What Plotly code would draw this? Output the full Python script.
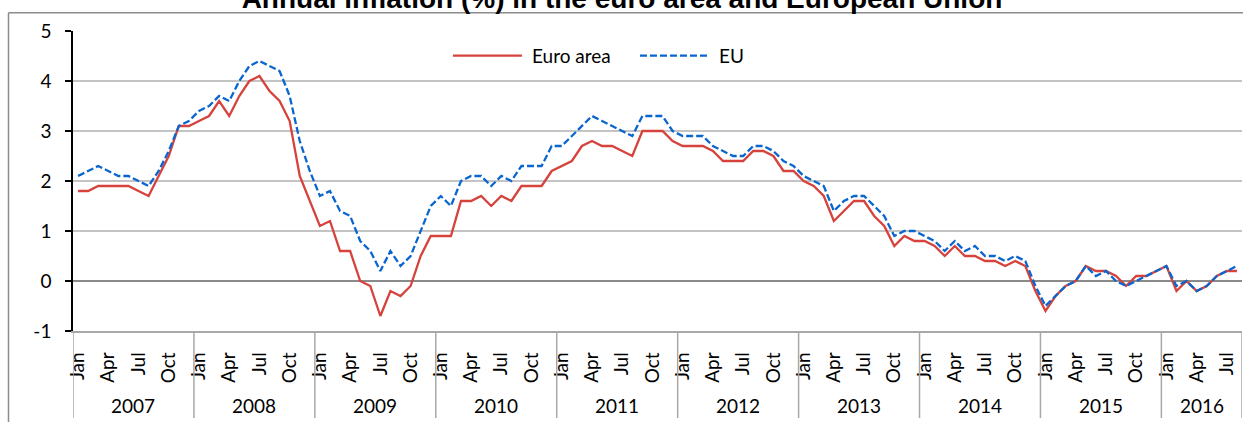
import plotly.graph_objects as go

# ---------------- data ----------------
years = [2007, 2008, 2009, 2010, 2011, 2012, 2013, 2014, 2015, 2016]
months = ["Jan", "Feb", "Mar", "Apr", "May", "Jun", "Jul", "Aug", "Sep", "Oct", "Nov", "Dec"]
shown_months = ["Jan", "Apr", "Jul", "Oct"]

euro_area = [
    1.8, 1.8, 1.9, 1.9, 1.9, 1.9, 1.8, 1.7, 2.1, 2.5, 3.1, 3.1,      # 2007
    3.2, 3.3, 3.6, 3.3, 3.7, 4.0, 4.1, 3.8, 3.6, 3.2, 2.1, 1.6,      # 2008
    1.1, 1.2, 0.6, 0.6, 0.0, -0.1, -0.7, -0.2, -0.3, -0.1, 0.5, 0.9,  # 2009
    0.9, 0.9, 1.6, 1.6, 1.7, 1.5, 1.7, 1.6, 1.9, 1.9, 1.9, 2.2,      # 2010
    2.3, 2.4, 2.7, 2.8, 2.7, 2.7, 2.6, 2.5, 3.0, 3.0, 3.0, 2.8,      # 2011
    2.7, 2.7, 2.7, 2.6, 2.4, 2.4, 2.4, 2.6, 2.6, 2.5, 2.2, 2.2,      # 2012
    2.0, 1.9, 1.7, 1.2, 1.4, 1.6, 1.6, 1.3, 1.1, 0.7, 0.9, 0.8,      # 2013
    0.8, 0.7, 0.5, 0.7, 0.5, 0.5, 0.4, 0.4, 0.3, 0.4, 0.3, -0.2,     # 2014
    -0.6, -0.3, -0.1, 0.0, 0.3, 0.2, 0.2, 0.1, -0.1, 0.1, 0.1, 0.2,  # 2015
    0.3, -0.2, 0.0, -0.2, -0.1, 0.1, 0.2, 0.2,                       # 2016
]

eu = [
    2.1, 2.2, 2.3, 2.2, 2.1, 2.1, 2.0, 1.9, 2.2, 2.6, 3.1, 3.2,      # 2007
    3.4, 3.5, 3.7, 3.6, 4.0, 4.3, 4.4, 4.3, 4.2, 3.7, 2.8, 2.2,      # 2008
    1.7, 1.8, 1.4, 1.3, 0.8, 0.6, 0.2, 0.6, 0.3, 0.5, 1.0, 1.5,      # 2009
    1.7, 1.5, 2.0, 2.1, 2.1, 1.9, 2.1, 2.0, 2.3, 2.3, 2.3, 2.7,      # 2010
    2.7, 2.9, 3.1, 3.3, 3.2, 3.1, 3.0, 2.9, 3.3, 3.3, 3.3, 3.0,      # 2011
    2.9, 2.9, 2.9, 2.7, 2.6, 2.5, 2.5, 2.7, 2.7, 2.6, 2.4, 2.3,      # 2012
    2.1, 2.0, 1.9, 1.4, 1.6, 1.7, 1.7, 1.5, 1.3, 0.9, 1.0, 1.0,      # 2013
    0.9, 0.8, 0.6, 0.8, 0.6, 0.7, 0.5, 0.5, 0.4, 0.5, 0.4, -0.1,     # 2014
    -0.5, -0.3, -0.1, 0.0, 0.3, 0.1, 0.2, 0.0, -0.1, 0.0, 0.1, 0.2,  # 2015
    0.3, -0.1, 0.0, -0.2, -0.1, 0.1, 0.2, 0.3,                       # 2016
]

y_ticks = [-1, 0, 1, 2, 3, 4, 5]
series_names = ["Euro area", "EU"]

# ---------------- derived ----------------
n = len(euro_area)
x_idx = list(range(n))
month_of = [months[i % 12] for i in x_idx]
year_of = [years[i // 12] for i in x_idx]
tick_vals = [i for i in x_idx if month_of[i] in shown_months]
tick_text = [month_of[i] for i in tick_vals]

RED = "#D5433C"
BLUE = "#0A66CF"
FONT = "Lato, 'Open Sans', sans-serif"
FS = 19
LEG_Y = 0.918
PW, PH = 1169, 300  # plot area size in px

fig = go.Figure()
fig.add_trace(go.Scatter(x=x_idx, y=euro_area, mode="lines", name=series_names[0],
                         line=dict(color=RED, width=2.3), showlegend=False,
                         customdata=list(zip(month_of, year_of)),
                         hovertemplate="%{customdata[0]} %{customdata[1]}: %{y}<extra>Euro area</extra>"))
fig.add_trace(go.Scatter(x=x_idx, y=eu, mode="lines", name=series_names[1],
                         line=dict(color=BLUE, width=2.3, dash="7px,3px"), showlegend=False,
                         customdata=list(zip(month_of, year_of)),
                         hovertemplate="%{customdata[0]} %{customdata[1]}: %{y}<extra>EU</extra>"))

shapes = []
annotations = []

# year group separators and labels
year_starts = [i for i in x_idx if i % 12 == 0]
bounds = [s - 0.5 for s in year_starts] + [n - 0.5]
for b in bounds:
    shapes.append(dict(type="line", xref="x", yref="paper", x0=b, x1=b, y0=0, y1=-0.29,
                       line=dict(color="#A8A8A8", width=1.5)))
for k, s in enumerate(year_starts):
    e = min(s + 11, n - 1)
    annotations.append(dict(x=(s + e) / 2, y=-0.247, xref="x", yref="paper", text=str(years[k]),
                            showarrow=False, font=dict(family=FONT, size=FS, color="black"),
                            xanchor="center", yanchor="middle"))

# outer frame (top and left edges visible), kept inside the figure
shapes.append(dict(type="line", xref="paper", yref="paper", x0=-64.5 / PW, x1=1 + 1 / PW,
                   y0=1 + 18.3 / PH, y1=1 + 18.3 / PH, line=dict(color="#8C8C8C", width=1.5)))
shapes.append(dict(type="line", xref="paper", yref="paper", x0=-64.5 / PW, x1=-64.5 / PW,
                   y0=1 + 18.3 / PH, y1=-91 / PH, line=dict(color="#8C8C8C", width=1.5)))

# custom legend
shapes.append(dict(type="line", xref="paper", yref="paper", x0=0.325, x1=0.384, y0=LEG_Y, y1=LEG_Y,
                   line=dict(color=RED, width=2.3)))
shapes.append(dict(type="line", xref="paper", yref="paper", x0=0.485, x1=0.543, y0=LEG_Y, y1=LEG_Y,
                   line=dict(color=BLUE, width=2.3, dash="7px,3px")))
annotations.append(dict(x=0.391, y=LEG_Y, xref="paper", yref="paper", text=series_names[0],
                        showarrow=False, xanchor="left", yanchor="middle",
                        font=dict(family=FONT, size=FS, color="black")))
annotations.append(dict(x=0.551, y=LEG_Y, xref="paper", yref="paper", text=series_names[1],
                        showarrow=False, xanchor="left", yanchor="middle",
                        font=dict(family=FONT, size=FS, color="black")))

fig.update_layout(
    width=1244, height=423,
    margin=dict(l=73, r=2, t=31, b=92),
    paper_bgcolor="white", plot_bgcolor="white",
    title=dict(text="<b>Annual inflation (%) in the euro area and European Union</b>",
               x=0.5, xanchor="center", xref="container",
               y=0.982, yanchor="bottom", yref="container",
               font=dict(family="'Liberation Sans', Arial, sans-serif", size=28, color="black")),
    shapes=shapes,
    annotations=annotations,
    showlegend=False,
)

fig.update_xaxes(
    range=[-0.5, n - 0.5],
    tickmode="array", tickvals=tick_vals, ticktext=tick_text, tickangle=-90,
    ticks="", showgrid=False, zeroline=False,
    showline=True, linecolor="#A8A8A8", linewidth=1.5,
    tickfont=dict(family=FONT, size=FS, color="black"),
    ticklabelstandoff=12,
)
fig.update_yaxes(
    range=[-1, 5], tickmode="array", tickvals=y_ticks, ticktext=[str(v) for v in y_ticks],
    showgrid=True, gridcolor="#C4C4C4", gridwidth=1.5,
    zeroline=True, zerolinecolor="#8A8A8A", zerolinewidth=2,
    showline=True, linecolor="black", linewidth=1.5,
    ticks="outside", ticklen=6, tickcolor="black", tickwidth=1.5,
    tickfont=dict(family=FONT, size=FS, color="black"),
    ticklabelstandoff=10,
)

fig.write_html(
    "out.html",
    config={"displayModeBar": False},
    post_script="document.body.style.margin='0px';document.body.style.overflow='hidden';"
                "document.documentElement.style.overflow='hidden';",
)
